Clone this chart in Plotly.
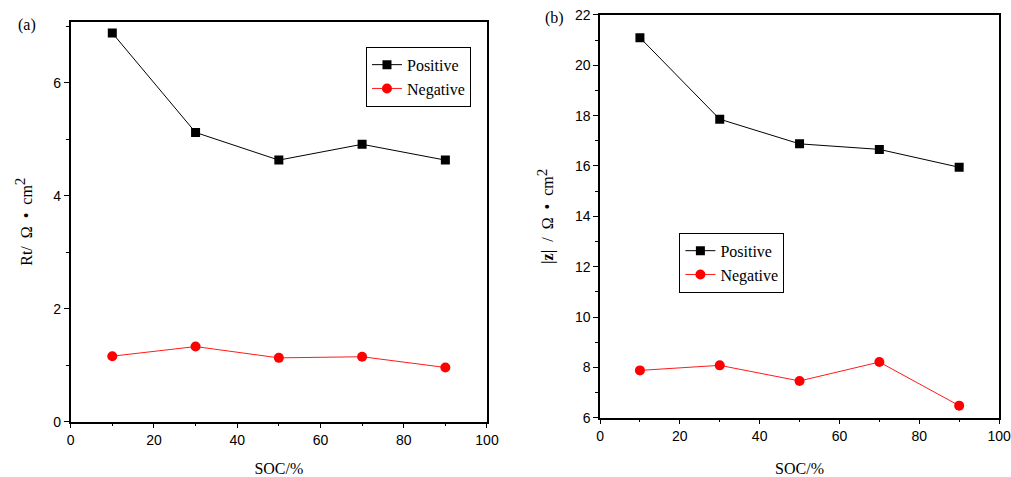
import plotly.graph_objects as go

# State of charge (%) at which each electrode was measured
soc = [10, 30, 50, 70, 90]

# (a) charge-transfer resistance Rt, Ω·cm²
rt_positive = [6.88, 5.12, 4.63, 4.91, 4.63]
rt_negative = [1.16, 1.33, 1.13, 1.15, 0.96]

# (b) impedance modulus |z|, Ω·cm²
z_positive = [21.10, 17.86, 16.88, 16.66, 15.95]
z_negative = [7.88, 8.08, 7.46, 8.21, 6.48]

x_ticks = [0, 20, 40, 60, 80, 100]
rt_ticks = [0, 2, 4, 6]
z_ticks = [6, 8, 10, 12, 14, 16, 18, 20, 22]

SERIF = "Liberation Serif, Times New Roman, serif"
SANS = "Liberation Sans, Arial, sans-serif"

fig = go.Figure()


def add_pair(pos, neg, xa, ya, legend):
    fig.add_trace(go.Scatter(
        x=soc, y=pos, name="Positive", mode="lines+markers",
        line=dict(color="black", width=1),
        marker=dict(symbol="square", size=9, color="black"),
        xaxis=xa, yaxis=ya, legend=legend,
    ))
    fig.add_trace(go.Scatter(
        x=soc, y=neg, name="Negative", mode="lines+markers",
        line=dict(color="#ff1a1a", width=1),
        marker=dict(symbol="circle", size=10, color="#ff0000"),
        xaxis=xa, yaxis=ya, legend=legend,
    ))


add_pair(rt_positive, rt_negative, "x", "y", "legend")
add_pair(z_positive, z_negative, "x2", "y2", "legend2")

axis_common = dict(
    showline=True, linecolor="black", linewidth=1.5, mirror=True,
    ticks="outside", ticklen=5, tickwidth=1.2, tickcolor="black",
    showgrid=False, zeroline=False, automargin=False,
    ticklabeloverflow="allow",
    tickfont=dict(family=SANS, size=14, color="black"),
    minor=dict(ticks="outside", ticklen=3, tickwidth=1, tickcolor="black"),
)

x_common = dict(axis_common, range=[0, 100], tickvals=x_ticks,
                minor=dict(axis_common["minor"], dtick=10, tick0=0))

title_font = dict(family=SERIF, size=16, color="black")
sq = "<sup><span style='font-size:15px'>2</span></sup>"

fig.update_layout(
    width=1011, height=477,
    margin=dict(l=0, r=0, t=0, b=0, autoexpand=False),
    paper_bgcolor="white", plot_bgcolor="white",
    xaxis=dict(x_common, domain=[0.0699, 0.4817], anchor="y",
               title=dict(text="SOC/%", standoff=22, font=title_font)),
    yaxis=dict(axis_common, domain=[0.1159, 0.9545], anchor="x",
               range=[0, 7.08], tickvals=rt_ticks,
               minor=dict(axis_common["minor"], dtick=1, tick0=0),
               title=dict(text="Rt/  Ω  •  cm" + sq, standoff=17,
                          font=title_font)),
    xaxis2=dict(x_common, domain=[0.5935, 0.9882], anchor="y2",
                title=dict(text="SOC/%", standoff=22, font=title_font)),
    yaxis2=dict(axis_common, domain=[0.1243, 0.9686], anchor="x2",
                range=[6, 22], tickvals=z_ticks,
                minor=dict(axis_common["minor"], dtick=1, tick0=0),
                title=dict(text="<b>|z|</b>  /  Ω  •  cm" + sq,
                           standoff=17, font=title_font)),
    legend=dict(x=0.362, y=0.902, xanchor="left", yanchor="top",
                bordercolor="black", borderwidth=1, bgcolor="white",
                font=dict(family=SERIF, size=16, color="black"),
                itemwidth=30, tracegroupgap=0),
    legend2=dict(x=0.672, y=0.512, xanchor="left", yanchor="top",
                 bordercolor="black", borderwidth=1, bgcolor="white",
                 font=dict(family=SERIF, size=16, color="black"),
                 itemwidth=30, tracegroupgap=0),
    annotations=[
        dict(text="(a)", x=27 / 1011, y=1 - 25 / 477, xref="paper", yref="paper",
             xanchor="center", yanchor="middle", showarrow=False,
             font=dict(family=SERIF, size=16, color="black")),
        dict(text="(b)", x=554 / 1011, y=1 - 18 / 477, xref="paper", yref="paper",
             xanchor="center", yanchor="middle", showarrow=False,
             font=dict(family=SERIF, size=16, color="black")),
    ],
)

fig.write_html("out.html")
